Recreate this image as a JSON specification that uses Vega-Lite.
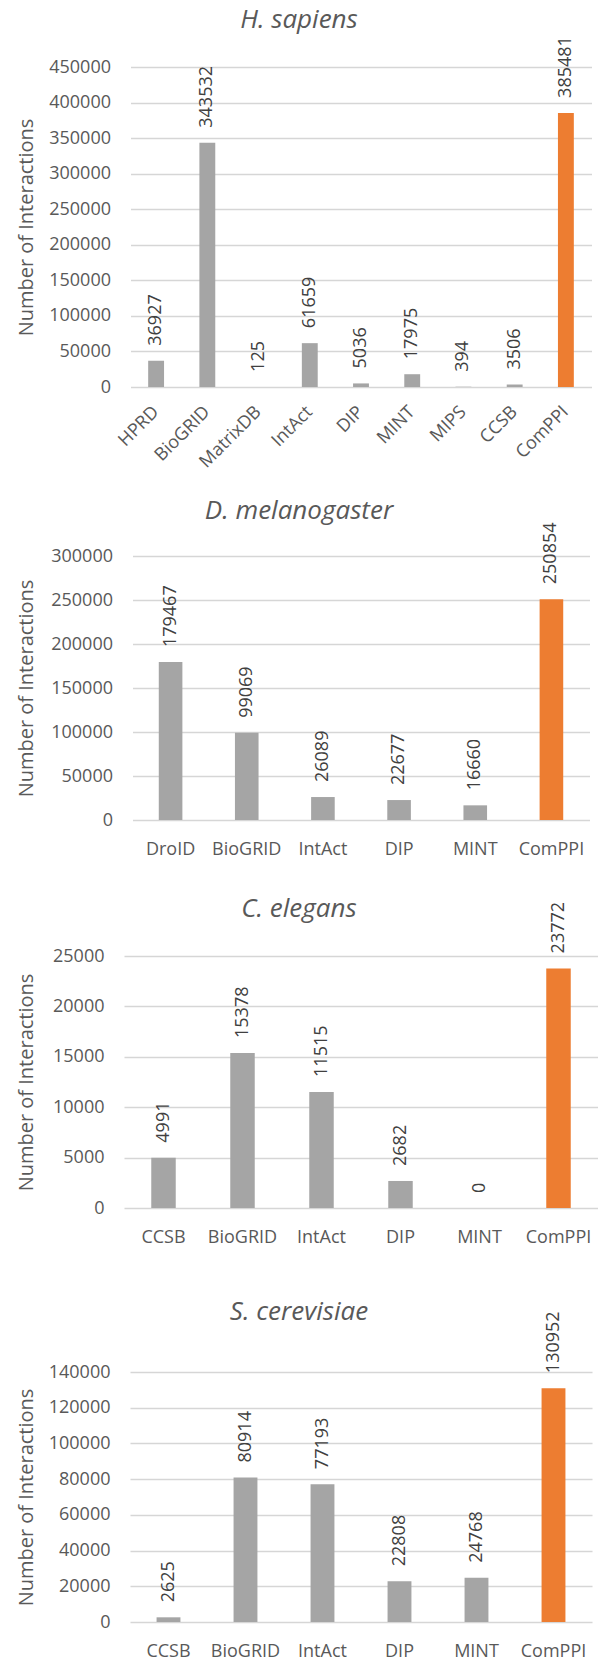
{
  "$schema": "https://vega.github.io/schema/vega-lite/v6.json",
  "background": "white",
  "padding": {"left": 16, "top": 7, "right": 0, "bottom": 0},
  "config": {
    "font": "Open Sans",
    "view": {"stroke": null},
    "axis": {
      "labelFont": "Open Sans",
      "labelColor": "#595959",
      "labelFontSize": 18,
      "titleFont": "Open Sans",
      "titleColor": "#595959",
      "titleFontSize": 20,
      "titleFontWeight": "normal",
      "ticks": false,
      "tickSize": 0,
      "domain": false,
      "gridColor": "#d6d6d6",
      "gridWidth": 1.5
    },
    "axisX": {"grid": false, "labelPadding": 20, "title": null},
    "axisY": {"labelPadding": 20, "titleAngle": -90, "titleBaseline": "middle", "titleAlign": "center"},
    "title": {
      "font": "Open Sans",
      "fontSize": 26,
      "fontStyle": "italic",
      "fontWeight": "normal",
      "color": "#595959",
      "frame": "group",
      "anchor": "middle",
      "dx": -62,
      "baseline": "alphabetic"
    }
  },
  "datasets": {
    "hs": [
      {"db": "HPRD", "value": 36927},
      {"db": "BioGRID", "value": 343532},
      {"db": "MatrixDB", "value": 125},
      {"db": "IntAct", "value": 61659},
      {"db": "DIP", "value": 5036},
      {"db": "MINT", "value": 17975},
      {"db": "MIPS", "value": 394},
      {"db": "CCSB", "value": 3506},
      {"db": "ComPPI", "value": 385481}
    ],
    "dm": [
      {"db": "DroID", "value": 179467},
      {"db": "BioGRID", "value": 99069},
      {"db": "IntAct", "value": 26089},
      {"db": "DIP", "value": 22677},
      {"db": "MINT", "value": 16660},
      {"db": "ComPPI", "value": 250854}
    ],
    "ce": [
      {"db": "CCSB", "value": 4991},
      {"db": "BioGRID", "value": 15378},
      {"db": "IntAct", "value": 11515},
      {"db": "DIP", "value": 2682},
      {"db": "MINT", "value": 0},
      {"db": "ComPPI", "value": 23772}
    ],
    "sc": [
      {"db": "CCSB", "value": 2625},
      {"db": "BioGRID", "value": 80914},
      {"db": "IntAct", "value": 77193},
      {"db": "DIP", "value": 22808},
      {"db": "MINT", "value": 24768},
      {"db": "ComPPI", "value": 130952}
    ]
  },
  "spacing": 136,
  "bounds": "flush",
  "center": true,
  "vconcat": [
    {
      "title": {"text": "H. sapiens", "offset": 3},
      "width": 461,
      "height": 320,
      "data": {"name": "hs"},
      "encoding": {
        "x": {"field": "db", "type": "nominal", "sort": null,
          "scale": {"paddingInner": 0.69, "paddingOuter": 0.345},
          "axis": {"labelAngle": -45, "labelAlign": "right", "labelBaseline": "middle", "labelPadding": 22}},
        "y": {"field": "value", "type": "quantitative",
          "scale": {"domain": [0, 450000], "nice": false},
          "axis": {"title": "Number of Interactions", "values": [0, 50000, 100000, 150000, 200000, 250000, 300000, 350000, 400000, 450000], "format": "d", "titleX": -104, "titleY": 160}}
      },
      "layer": [
        {"mark": {"type": "bar"},
         "encoding": {"color": {"condition": {"test": "datum.db === 'ComPPI'", "value": "#ED7D31"}, "value": "#A5A5A5"}}},
        {"mark": {"type": "text", "angle": 270, "align": "left", "baseline": "middle", "dx": 15, "fontSize": 18, "color": "#404040", "font": "Open Sans"},
         "encoding": {"text": {"field": "value", "type": "quantitative", "format": "d"}}}
      ]
    },
    {
      "title": {"text": "D. melanogaster", "offset": -2},
      "width": 457,
      "height": 297,
      "data": {"name": "dm"},
      "encoding": {
        "x": {"field": "db", "type": "nominal", "sort": null,
          "scale": {"paddingInner": 0.69, "paddingOuter": 0.345},
          "axis": {"labelAngle": 0}},
        "y": {"field": "value", "type": "quantitative",
          "scale": {"domain": [0, 337500], "nice": false},
          "axis": {"title": "Number of Interactions", "values": [0, 50000, 100000, 150000, 200000, 250000, 300000], "format": "d", "titleX": -106, "titleY": 165}}
      },
      "layer": [
        {"mark": {"type": "bar"},
         "encoding": {"color": {"condition": {"test": "datum.db === 'ComPPI'", "value": "#ED7D31"}, "value": "#A5A5A5"}}},
        {"mark": {"type": "text", "angle": 270, "align": "left", "baseline": "middle", "dx": 15, "fontSize": 18, "color": "#404040", "font": "Open Sans"},
         "encoding": {"text": {"field": "value", "type": "quantitative", "format": "d"}}}
      ]
    },
    {
      "title": {"text": "C. elegans", "offset": -20},
      "width": 474,
      "height": 252,
      "data": {"name": "ce"},
      "encoding": {
        "x": {"field": "db", "type": "nominal", "sort": null,
          "scale": {"paddingInner": 0.69, "paddingOuter": 0.345},
          "axis": {"labelAngle": 0}},
        "y": {"field": "value", "type": "quantitative",
          "scale": {"domain": [0, 25000], "nice": false},
          "axis": {"title": "Number of Interactions", "values": [0, 5000, 10000, 15000, 20000, 25000], "format": "d", "titleX": -97.5, "titleY": 126}}
      },
      "layer": [
        {"mark": {"type": "bar"},
         "encoding": {"color": {"condition": {"test": "datum.db === 'ComPPI'", "value": "#ED7D31"}, "value": "#A5A5A5"}}},
        {"mark": {"type": "text", "angle": 270, "align": "left", "baseline": "middle", "dx": 15, "fontSize": 18, "color": "#404040", "font": "Open Sans"},
         "encoding": {"text": {"field": "value", "type": "quantitative", "format": "d"}}}
      ]
    },
    {
      "title": {"text": "S. cerevisiae", "offset": -14},
      "width": 462,
      "height": 278,
      "data": {"name": "sc"},
      "encoding": {
        "x": {"field": "db", "type": "nominal", "sort": null,
          "scale": {"paddingInner": 0.69, "paddingOuter": 0.345},
          "axis": {"labelAngle": 0}},
        "y": {"field": "value", "type": "quantitative",
          "scale": {"domain": [0, 155680], "nice": false},
          "axis": {"title": "Number of Interactions", "values": [0, 20000, 40000, 60000, 80000, 100000, 120000, 140000], "format": "d", "titleX": -104, "titleY": 153}}
      },
      "layer": [
        {"mark": {"type": "bar"},
         "encoding": {"color": {"condition": {"test": "datum.db === 'ComPPI'", "value": "#ED7D31"}, "value": "#A5A5A5"}}},
        {"mark": {"type": "text", "angle": 270, "align": "left", "baseline": "middle", "dx": 15, "fontSize": 18, "color": "#404040", "font": "Open Sans"},
         "encoding": {"text": {"field": "value", "type": "quantitative", "format": "d"}}}
      ]
    }
  ]
}
